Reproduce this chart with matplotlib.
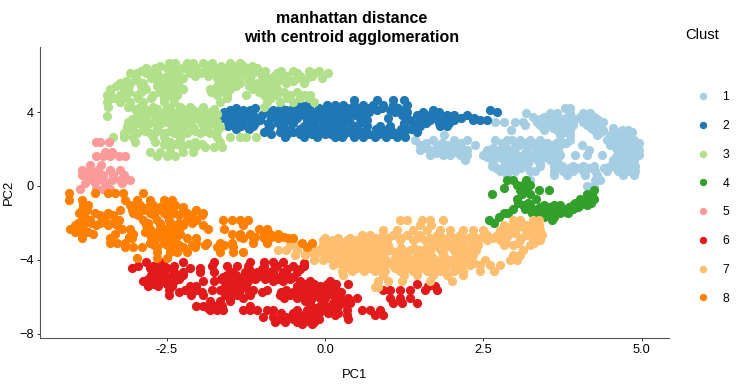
import matplotlib

matplotlib.use("Agg")
import matplotlib.pyplot as plt
from matplotlib.lines import Line2D

plt.rcParams["font.family"] = ["Liberation Sans", "DejaVu Sans"]

clust1 = [
    (4.21, [3.79, 3.87]),
    (3.94, [3.18, 3.55, 3.66, 3.87, 4.08, 4.18]),
    (3.76, [3.29, 3.45, 3.61, 3.82, 4.03, 4.24]),
    (3.65, [3.4, 3.55, 3.75, 3.95, 4.15, 4.3]),
    (3.49, [2.68, 2.82, 3, 3.13, 3.34, 3.5, 3.66, 3.87, 4.08, 4.24, 4.39]),
    (3.31, [3.16, 3.4, 3.55, 3.71, 3.92, 4.13, 4.29]),
    (3.15, [3.6, 3.8, 4.2, 4.35, 4.55]),
    (3.04, [2.93, 3.45, 3.66, 3.87, 4.24, 4.39, 4.69, 4.79]),
    (2.9, [3.7, 3.8, 4.35, 4.55, 4.7, 4.85]),
    (2.76, [1.88, 3.71, 3.87, 4.29, 4.5, 4.66, 4.76]),
    (2.49, [1.42, 1.71, 2.03, 2.24, 2.68, 2.87, 2.95, 3.08, 3.24, 3.39, 3.71, 3.87, 4.45, 4.61, 4.76, 4.87]),
    (2.35, [1.6, 1.85, 2.15, 2.8, 3.0, 3.15, 3.3, 3.5, 3.65, 3.8, 4.55, 4.7, 4.85, 4.95]),
    (2.22, [1.5, 1.76, 1.92, 2.08, 2.37, 3.08, 3.24, 3.39, 3.55, 3.71, 4.05, 4.5, 4.71, 4.87]),
    (2.05, [1.6, 1.8, 2.0, 2.15, 2.65, 2.85, 3.0, 3.2, 3.4, 3.6, 4.6, 4.75, 4.9]),
    (1.95, [1.5, 1.66, 1.92, 2.08, 2.24, 2.55, 2.76, 2.92, 3.34, 3.5, 3.66, 4.16, 4.66, 4.82, 4.95]),
    (1.8, [1.75, 2.0, 2.2, 2.6, 2.75, 2.95, 3.15, 3.35, 3.55, 3.7, 4.65, 4.85]),
    (1.68, [1.66, 1.87, 1.97, 2.13, 2.24, 2.5, 2.66, 2.87, 3.03, 3.24, 3.45, 3.61, 3.71, 3.95, 4.13, 4.37, 4.61, 4.76, 4.95]),
    (1.55, [2.55, 2.75, 2.9, 3.05, 3.25, 3.45, 3.6, 4.6, 4.8]),
    (1.41, [2.21, 2.63, 2.82, 2.97, 3.13, 3.34, 3.55, 3.66, 4.55, 4.71, 4.87]),
    (1.25, [2.65, 2.85, 3.0, 3.2, 3.4, 3.65, 4.6, 4.8]),
    (1.08, [2.63, 2.82, 3.18, 3.39, 3.61, 3.74, 3.92, 4.08, 4.24, 4.5, 4.71, 4.89]),
    (0.95, [2.7, 2.9, 3.1, 3.65, 3.85, 4.0, 4.15, 4.4, 4.6, 4.8]),
    (0.83, [2.76, 3, 3.24, 3.32, 3.61, 3.76, 3.92, 4.08, 4.26, 4.45, 4.63, 4.76, 4.89]),
    (0.6, [2.87, 3.61, 3.82, 4.1, 4.29, 4.71, 4.87]),
    (0.33, [3.24, 4.26, 4.34]),
    (0.02, [4.13, 4.24]),
]
clust2 = [
    (4.66, [0.45, 0.82, 1.08, 1.24]),
    (4.39, [-0.39, -0.29, 0.03, 0.16, 0.29, 0.45, 0.6, 0.76, 0.92, 1.08, 1.29]),
    (4.25, [-1.4, -1.1, -0.7, -0.5, -0.3, -0.1, 0.1, 0.35, 0.5, 0.7, 0.9, 1.15]),
    (4.12, [-1.5, -1.29, -1.18, -0.82, -0.61, -0.39, -0.24, -0.03, 0.13, 0.24, 0.39, 0.55, 0.82, 1.03, 1.18, 1.71, 2.6]),
    (4.0, [-1.6, -1.4, -1.2, -0.9, -0.65, -0.45, -0.2, 0, 0.2, 0.4, 0.7, 1.1, 1.3, 1.55, 1.8, 2.71]),
    (3.85, [-1.71, -1.55, -1.34, -1.13, -1, -0.76, -0.55, -0.34, -0.13, 0.03, 0.18, 0.29, 0.45, 0.63, 1.21, 1.45, 1.6, 1.71, 1.92, 2.03, 2.24]),
    (3.7, [-1.65, -1.45, -1.25, -1.05, -0.85, -0.65, -0.45, -0.25, -0.05, 0.1, 0.35, 0.55, 1.0, 1.3, 1.55, 1.75, 1.95, 2.15, 2.35]),
    (3.55, [-1.55, -1.39, -1.21, -1.03, -0.71, -0.58, -0.29, -0.13, 0.13, 0.24, 0.34, 0.66, 1.34, 1.5, 1.66, 1.87, 2.03, 2.34, 2.45, 2.55]),
    (3.4, [-1.45, -1.3, -1.1, -0.9, -0.75, -0.5, -0.2, 0.05, 0.2, 0.4, 0.55, 1.25, 1.4, 1.6, 1.8, 1.95]),
    (3.25, [-1.53, -1.32, -1.13, -0.87, -0.66, -0.34, -0.18, -0.03, 0.18, 0.29, 0.45, 0.66, 0.87, 1.03, 1.24, 1.4, 1.5, 1.82, 1.92]),
    (3.1, [-1.4, -1.2, -0.9, -0.7, -0.55, -0.4, -0.2, -0.05, 0.1, 0.3, 0.5, 0.8, 1, 1.2, 1.35]),
    (2.95, [-0.97, -0.71, -0.5, -0.29, -0.13, 0.03, 0.21, 0.39, 0.6, 0.92, 1.08, 1.24, 1.45]),
    (2.8, [-0.85, -0.6, -0.4, -0.2, 0, 0.1, 0.3, 0.5, 0.7, 0.85, 1.05, 1.2]),
    (2.65, [-0.63, -0.34, -0.13, 0.16, 0.26, 0.45, 0.6, 0.79, 0.97, 1.13, 1.26]),
]
clust3 = [
    (6.65, [-2.47, -2.37, -2.18, -2.08, -1.92, -1.79, -1.5, -1.34]),
    (6.5, [-2.6, -2.35, -2.1, -1.85, -1.65, -1.45, -1.3, -1.15]),
    (6.37, [-2.82, -2.68, -2.5, -2.24, -2.03, -1.76, -1.55, -1.39, -1.24, -1.08]),
    (6.25, [-2.9, -2.75, -2.45, -2.15, -1.9, -1.7, -1.5, -1.3, -1.1, -0.95, -0.7, -0.5, -0.25, -0.1]),
    (6.1, [-3.08, -2.97, -2.82, -2.66, -2.34, -2.13, -1.97, -1.82, -1.61, -1.45, -1.29, -1.13, -0.76, -0.45, -0.18, 0.05]),
    (5.95, [-3.0, -2.7, -2.5, -2.3, -2.05, -1.85, -1.55, -1.35, -1.2, -1.0, -0.8, -0.6, -0.4, -0.2]),
    (5.83, [-2.74, -2.58, -2.39, -2.24, -1.71, -1.5, -1.34, -1.18, -0.92, -0.66, -0.45, -0.29, -0.05]),
    (5.7, [-3.15, -2.95, -2.65, -2.45, -1.6, -1.4, -1.2, -1.0, -0.75, -0.5]),
    (5.56, [-3.24, -3.08, -2.87, -2.55, -2.34, -1.5, -1.34, -1.08, -0.87, -0.61, -0.34]),
    (5.4, [-3.3, -3.1, -2.9, -2.65, -2.45, -2.3, -1.7, -1.55, -1.4, -1.2, -1.0, -0.85]),
    (5.24, [-3.39, -3.18, -2.82, -2.55, -2.24, -1.82, -1.66, -1.5, -1.13, -0.92, -0.76]),
    (5.1, [-3.4, -3.1, -2.9, -2.6, -2.4, -1.8, -1.6, -1.05, -0.85, -0.65, -0.45]),
    (4.93, [-3.45, -3.24, -2.97, -2.71, -2.5, -2.34, -1.71, -1.55, -1.24, -0.97, -0.76, -0.55, -0.34, -0.24]),
    (4.75, [-3.35, -3.15, -2.95, -2.75, -2.55, -2.4, -1.55, -0.85, -0.6, -0.4, -0.25]),
    (4.57, [-3.45, -3.24, -3.08, -2.87, -2.55, -2.39, -1.66, -0.92, -0.71, -0.5, -0.18]),
    (4.3, [-3.42, -3.11, -2.92, -2.71, -2.5, -2.29, -2.13, -1.92, -0.97]),
    (4.15, [-3.0, -2.85, -2.65, -2.45, -2.25, -2.1, -1.95, -1.75]),
    (4.03, [-2.92, -2.76, -2.55, -2.34, -2.18, -2.03, -1.82]),
    (3.9, [-2.9, -2.7, -2.5, -2.3, -2.1, -1.9, -1.7]),
    (3.79, [-3.45, -2.97, -2.82, -2.66, -2.45, -2.24, -2.03, -1.87]),
    (3.65, [-3.05, -2.85, -2.6, -2.4, -2.2, -2.0, -1.8]),
    (3.48, [-3.11, -2.92, -2.71, -2.5, -2.29, -2.13, -1.92, -1.71]),
    (3.35, [-3.0, -2.8, -2.6, -2.35, -2.15, -1.95, -1.75]),
    (3.18, [-3.12, -2.87, -2.66, -2.42, -2.24, -2.08, -1.87, -1.66]),
    (3.0, [-3.05, -2.85, -2.65, -2.45, -2.3, -2.05, -1.9, -1.7]),
    (2.85, [-3.18, -2.97, -2.76, -2.55, -2.39, -2.18, -1.97, -1.82]),
    (2.67, [-3.35, -3.18, -3.03, -2.71, -2.55, -2.29, -1.71, -1.5, -1.34, -1.24, -1.09]),
    (2.4, [-3.0, -2.68, -2.45, -2.29, -2.05, -1.66]),
    (2.25, [-2.55, -2.35, -2.15, -1.95]),
    (2.13, [-2.45, -2.26, -2.05, -1.9, -1.76, -1.63]),
    (1.86, [-2.77, -2.61, -2.45, -2.24, -2.08]),
    (1.62, [-2.66, -2.5, -2.37]),
]
clust4 = [
    (0.33, [2.87, 2.97, 3.18]),
    (0.05, [3.03, 3.13, 3.24]),
    (-0.09, [2.82]),
    (-0.22, [3.08, 3.18, 3.37, 3.54, 4.24]),
    (-0.43, [2.63, 3.11, 3.24, 4.13, 4.21]),
    (-0.72, [3.03, 3.33, 4.03, 4.16, 4.24]),
    (-0.9, [3.05, 3.2, 3.95, 4.1, 4.2]),
    (-1.03, [3.12, 3.24, 3.45, 3.61, 3.71, 3.92, 4.03, 4.13]),
    (-1.15, [3.2, 3.4, 3.55, 3.7, 3.85, 4.0]),
    (-1.27, [2.97, 3.16, 3.34, 3.5, 3.66, 3.76, 3.92]),
    (-1.4, [3.3, 3.45, 3.6, 3.8]),
    (-1.48, [2.82, 2.89, 3.26, 3.39, 3.55, 3.71, 3.84]),
    (-1.66, [2.74, 3.34, 3.45, 3.61]),
    (-1.84, [2.59, 3.58]),
    (-2.03, [2.66]),
]
clust5 = [
    (2.4, [-3.61, -3.55, -3.41]),
    (1.86, [-3.47, -3.37]),
    (1.64, [-3.61, -3.5, -3.39, -3.26, -3.16]),
    (1.13, [-3.71, -3.53]),
    (0.86, [-3.84, -3.71, -3.58, -3.39, -3.24]),
    (0.59, [-3.84, -3.71, -3.61, -3.5, -3.34, -3.18]),
    (0.32, [-3.76, -3.63, -3.5, -3.37, -3.24, -3.08]),
    (0.14, [-3.79, -3.63, -3.47, -3.21]),
    (-0.17, [-3.87, -3.61, -3.5, -3.39]),
]
clust6 = [
    (-4.1, [-2.83, -2.61, -2.24, -1.76, -1.18, -0.97, -0.82, -0.66]),
    (-4.16, [-0.33]),
    (-4.34, [-2.95, -2.71, -2.55, -2.39, -1.79, -1.55, -1.39, -1.21, -0.97, -0.76, -0.5, -0.34]),
    (-4.46, [-3.05, -2.76, -2.5, -2.13, -1.97]),
    (-4.5, [-2.65, -2.4, -1.2, -1.0, -0.8, -0.6, -0.4]),
    (-4.64, [-2.71, -2.55, -2.39, -2.24, -1.97, -1.76, -1.47, -1.26, -1.08, -0.87, -0.66, -0.45]),
    (-4.8, [-2.75, -2.6, -2.4, -2.25, -1.55, -1.4, -1.2, -1.0, -0.8, -0.6]),
    (-4.91, [-2.66, -2.5, -2.34, -1.61, -1.29, -1.08, -0.92, -0.71, -0.5]),
    (-5.05, [-2.8, -2.6, -2.45, -2.3, -1.65, -1.45, -1.1, -0.95, -0.75, -0.55]),
    (-5.15, [-2.87, -2.71, -2.55, -2.39, -1.92, -1.76, -1.55, -1.34, -1.21, -0.82, -0.66, -0.39, -0.24, 0.08]),
    (-5.3, [-2.7, -2.5, -1.45, -1.3, -0.34, -0.18, 0.03, 0.18, 0.37, 1.45]),
    (-5.42, [-2.79, -2.63, -2.42, -2.13, -2.03, -1.58, -1.39, -1.24, -0.45, -0.29, -0.08, 0.13, 1.63, 1.74]),
    (-5.64, [-2.47, -2.21, -2.03, -1.79, -1.66, -1.5, -1.34, -1.13, -0.92, -0.61, -0.39, -0.24, -0.03, 0.18, 0.92, 1.03, 1.18, 1.34, 1.58, 1.76]),
    (-5.75, [-2.3, -1.95, -1.6, -1.4, -1.2, -1.0, -0.7, -0.5, -0.3, -0.15, 0.05, 0.25]),
    (-5.91, [-2.47, -2.11, -1.92, -1.58, -1.39, -1.18, -0.71, -0.55, -0.34, -0.08, 0.13]),
    (-6.05, [-1.5, -1.3, -0.65, -0.45, -0.2, 0.0]),
    (-6.09, [-0.34, -0.08, 0.24, 0.37, 0.5, 1.03, 1.18, 1.34]),
    (-6.22, [-1.82, -1.66, -1.5, -0.32, -0.03, 0.16]),
    (-6.36, [-0.24, -0.03, 0.13, 0.29, 0.39, 1.08, 1.21, 1.45]),
    (-6.49, [-2.03, -1.92, -1.76, -1.63, -1.18, -0.08, 0.08, 0.21]),
    (-6.6, [-1.85, -1.7, -0.15, 0.02, 0.12]),
    (-6.72, [-1.82, -1.71, -1.61, -1.29, -1.18, -1.08, -0.92, -0.82, -0.45, -0.29, -0.18, -0.03, 0.16, 0.34, 0.58, 0.71, 0.87]),
    (-6.9, [-0.7, -0.5, -0.3, -0.1, 0.05, 0.2]),
    (-7.0, [-0.39, -0.18, 0.16, 0.34, 0.79, 0.92]),
    (-7.08, [-0.98, -0.82, -0.61, -0.39, -0.18]),
    (-7.2, [-0.7, -0.5, -0.4, -0.1]),
    (-7.23, [-0.34, -0.21, 0.37]),
    (-7.35, [-0.79, -0.63, -0.45, -0.34, -0.18]),
    (-7.48, [-0.37, -0.21]),
]
clust7 = [
    (-1.84, [1.18, 1.29, 1.53, 1.66, 1.87, 2.97, 3.08, 3.29, 3.37]),
    (-2.11, [1.5, 1.68, 2.82, 2.97, 3.18, 3.37]),
    (-2.25, [2.85, 3.05, 3.25]),
    (-2.39, [0.92, 1.13, 1.39, 1.61, 1.82, 1.97, 2.18, 2.34, 2.5, 2.76, 2.97, 3.18, 3.39]),
    (-2.55, [2.8, 3.0, 3.3]),
    (-2.66, [0.58, 0.71, 0.92, 1.08, 1.29, 1.5, 1.76, 1.97, 2.13, 2.34, 2.55, 2.71, 2.89, 3.18, 3.42]),
    (-2.8, [0.0, 0.2, 0.4, 0.6, 0.8, 1.0, 1.2, 1.45, 1.65, 1.85, 2.05, 2.25, 2.45, 2.65, 2.85, 3.1, 3.3]),
    (-2.93, [-0.03, 0.13, 0.34, 0.5, 0.71, 0.92, 1.18, 1.39, 1.58, 1.76, 1.92, 2.13, 2.34, 2.55, 2.76, 3.08, 3.29, 3.39]),
    (-3.1, [0.05, 0.2, 0.4, 0.55, 0.75, 0.95, 1.8, 2.0, 2.2, 2.85, 3.05, 3.3]),
    (-3.2, [-0.55, -0.45, -0.03, 0.08, 0.24, 0.5, 0.66, 0.87, 1, 1.71, 1.92, 2.13, 2.34, 2.42, 2.82, 2.97, 3.24]),
    (-3.35, [-0.2, 0, 0.15, 0.3, 0.45, 0.65, 0.85, 1.0, 1.2, 1.4, 1.6, 1.8, 2.0, 2.2]),
    (-3.47, [-0.74, -0.61, -0.45, -0.29, -0.13, 0.03, 0.18, 0.34, 0.5, 0.71, 0.92, 1.03, 1.18, 1.34, 1.5, 1.66, 1.87, 2.08, 2.29, 2.39, 3.13]),
    (-3.6, [-0.2, -0.05, 0.1, 0.25, 0.4, 0.6, 0.8, 0.95, 1.1, 1.25, 1.45, 1.65, 1.85, 2.05, 2.2]),
    (-3.74, [-0.47, -0.32, -0.16, 0.13, 0.29, 0.5, 0.66, 0.87, 1.13, 1.29, 1.45, 1.61, 1.87, 2.08, 2.24, 2.34, 2.97, 3.08]),
    (-3.9, [0.05, 0.2, 0.4, 0.55, 0.75, 0.9, 1.1, 1.3, 1.5, 1.7, 1.9, 2.1, 2.25]),
    (-4.01, [-0.18, -0.03, 0.13, 0.29, 0.45, 0.66, 0.82, 0.97, 1.18, 1.39, 1.61, 1.82, 1.97, 2.18, 2.29, 2.53, 2.92, 3.03]),
    (-4.15, [0.2, 0.4, 0.6, 0.8, 1.0, 1.2, 1.4, 1.6, 1.8, 2.0, 2.2, 2.35]),
    (-4.28, [0.13, 0.34, 0.5, 0.71, 0.87, 1.08, 1.29, 1.5, 1.71, 1.92, 2.08, 2.29, 2.45, 2.61, 2.76]),
    (-4.45, [0.3, 0.5, 0.7, 0.9, 1.1, 1.3, 1.5, 1.7, 1.9, 2.1]),
    (-4.59, [0.26, 0.42, 0.61, 0.79, 0.95, 1.18, 1.39, 1.61, 1.82, 2.03, 2.18, 2.45, 2.66]),
    (-4.83, [0.29, 0.92, 1.24, 1.45, 1.71, 1.92, 2.18]),
    (-5.15, [0.84, 1, 1.21, 1.66, 2]),
    (-5.45, [0.79, 0.83]),
]
clust8 = [
    (-0.4, [-4.04, -3.63, -3.42, -3.32, -3.19, -2.87]),
    (-0.76, [-4.05, -3.84, -3.16, -2.97, -2.76, -2.55, -2.42]),
    (-1.03, [-3.82, -3.74, -3.08, -2.92, -2.71, -2.5, -2.37]),
    (-1.15, [-3.0, -2.8, -2.6, -2.4, -2.25]),
    (-1.3, [-3.84, -3.76, -3.24, -3.05, -2.87, -2.66, -2.45, -2.24, -2.03]),
    (-1.48, [-3.89, -3.63, -3.42, -3.03, -2.76, -2.55, -2.39, -2.18, -1.92]),
    (-1.6, [-3.8, -3.55, -3.35, -2.95, -2.7, -2.5, -2.3, -2.1, -1.95]),
    (-1.84, [-3.84, -3.71, -3.47, -3.26, -2.87, -2.66, -2.47, -2.18, -2.03, -1.61, -1.47, -1.34, -1.21]),
    (-2.0, [-3.9, -3.7, -3.55, -3.35, -2.8, -2.6, -2.45, -2.3, -2.1]),
    (-2.11, [-3.95, -3.82, -3.61, -3.42, -3.29, -2.82, -2.61, -2.39, -2.24, -1.92, -1.29]),
    (-2.35, [-4.03, -3.89, -3.21, -3.08, -2.76, -2.55, -2.37, -1.84, -1.59, -1.05, -0.92]),
    (-2.5, [-3.95, -3.75, -2.85, -2.65, -2.45, -2.3]),
    (-2.6, [-3.84, -3.67, -3.32, -3.03, -2.71, -2.5, -2.29, -1.47, -1.34, -1.18, -0.97, -0.87, -0.75]),
    (-2.75, [-3.1, -2.75, -2.55, -2.35, -1.35, -1.1, -0.85, -0.65]),
    (-2.84, [-3.83, -3.39, -3.04, -2.66, -2.45, -2.18, -2.03, -1.29, -1.13, -0.97, -0.74, -0.58, -0.5]),
    (-3.07, [-3.39, -3.29, -3.16, -2.76, -2.55, -2.39, -2.03, -1.87, -1.66, -1.47, -1.13, -0.92, -0.37, -0.21]),
    (-3.2, [-2.7, -2.5, -2.3, -2.1, -1.9, -1.6]),
    (-3.29, [-3.16, -3.03, -2.89, -2.66, -2.45, -2.24, -2.05, -1.71, -1.45, -0.29]),
    (-3.56, [-2.66, -2.45, -2.34, -2.18, -1.66, -1.45, -1.3]),
    (-3.92, [-2.97, -2.66, -2.5]),
]

clusters = [clust1, clust2, clust3, clust4, clust5, clust6, clust7, clust8]
labels = ["1", "2", "3", "4", "5", "6", "7", "8"]
colors = ["#A6CEE3", "#1F78B4", "#B2DF8A", "#33A02C", "#FB9A99", "#E31A1C", "#FDBF6F", "#FF7F00"]
xticks = [-2.5, 0.0, 2.5, 5.0]
yticks = [-8, -4, 0, 4]

fig = plt.figure(figsize=(7.47, 3.84), dpi=100)
ax = fig.add_axes([40 / 747, 1 - 338 / 384, 629 / 747, 291 / 384])

for rows, label, color in zip(clusters, labels, colors):
    px = [x for y, xs in rows for x in xs]
    py = [y for y, xs in rows for x in xs]
    ax.scatter(px, py, s=44, color=color, linewidths=0, label=label)

ax.set_xlim(-4.5, 5.43)
ax.set_ylim(-8.24, 7.53)
ax.set_xticks(xticks, ["-2.5", "0.0", "2.5", "5.0"])
ax.set_yticks(yticks)
ax.tick_params(labelsize=9.2, length=2.5, width=0.7, color="#333333", labelcolor="black", pad=2)
ax.spines["top"].set_visible(False)
ax.spines["right"].set_visible(False)
for side in ("left", "bottom"):
    ax.spines[side].set_linewidth(0.8)
    ax.spines[side].set_color("#555555")
ax.set_xlabel("PC1", fontsize=9.4, labelpad=9)
ax.set_ylabel("PC2", fontsize=9.4, labelpad=3)
fig.text(352 / 747, 1 - 28 / 384, "manhattan distance\nwith centroid agglomeration", fontsize=11.5,
         fontweight="bold", linespacing=1.35, ha="center", va="center")

# Legend sits in the right margin, title placed apart as in the original
handles = [Line2D([], [], ls="", marker="o", ms=5.3, mfc=c, mec="none") for c in colors]
fig.legend(handles, labels, loc="center left", bbox_to_anchor=(687 / 747, 1 - 198 / 384),
           frameon=False, fontsize=8.8, labelspacing=1.37, handletextpad=0.8,
           handlelength=1.6, borderpad=0)
fig.text(685 / 747, 1 - 35 / 384, "Clust", fontsize=10.6, va="center", ha="left")

fig.savefig("out.png", dpi=100)
plt.close(fig)
